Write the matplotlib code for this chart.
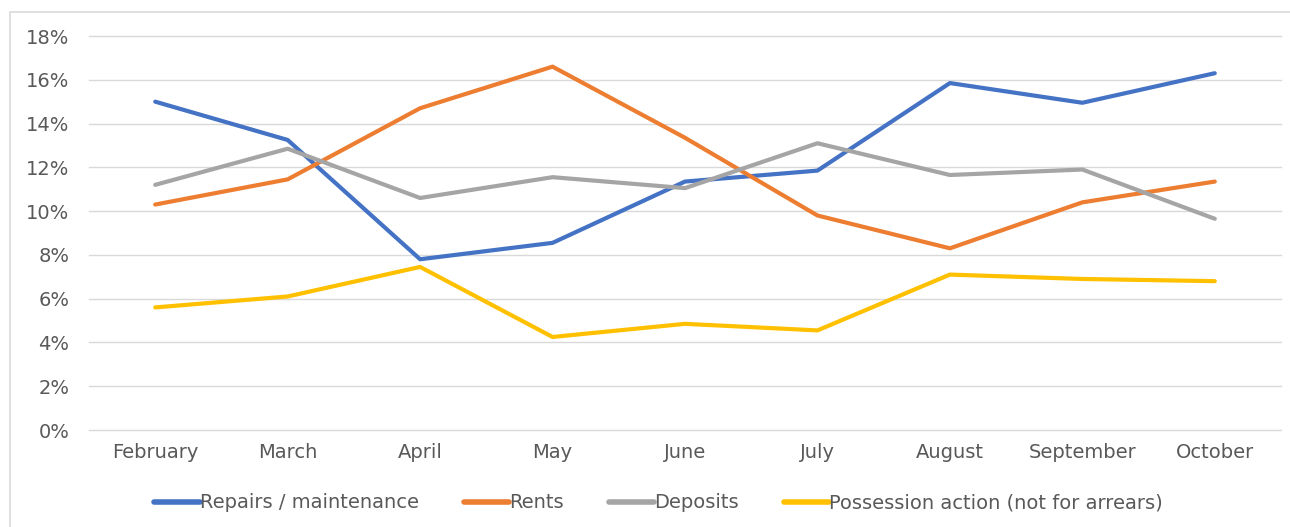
import matplotlib
matplotlib.use("Agg")
import matplotlib.pyplot as plt
from matplotlib.patches import Rectangle
from matplotlib.ticker import FuncFormatter

months = ["February", "March", "April", "May", "June", "July",
          "August", "September", "October"]
repairs = [15.0, 13.25, 7.8, 8.55, 11.35, 11.85, 15.85, 14.95, 16.3]
rents = [10.3, 11.45, 14.7, 16.6, 13.35, 9.8, 8.3, 10.4, 11.35]
deposits = [11.2, 12.85, 10.6, 11.55, 11.05, 13.1, 11.65, 11.9, 9.65]
possession = [5.6, 6.1, 7.45, 4.25, 4.85, 4.55, 7.1, 6.9, 6.8]

series = [
    ("Repairs / maintenance", repairs, "#4472C4"),
    ("Rents", rents, "#ED7D31"),
    ("Deposits", deposits, "#A5A5A5"),
    ("Possession action (not for arrears)", possession, "#FFC000"),
]

fig = plt.figure(figsize=(12.9, 5.27), dpi=100)
fig.patches.append(Rectangle((10 / 1290, -0.1), 1.2, (527 - 12) / 527 + 0.1,
                             transform=fig.transFigure, fill=False,
                             edgecolor="#D9D9D9", lw=1.2))
ax = fig.add_axes([89 / 1290, 1 - 430 / 527, (1281 - 89) / 1290, (430 - 36) / 527])

x = list(range(len(months)))
for nome, vals, cor in series:
    ax.plot(x, vals, color=cor, lw=3, label=nome, solid_capstyle="round",
            solid_joinstyle="round")

ax.set_xlim(-0.5, len(months) - 0.5)
ax.set_ylim(0, 18)
ax.set_yticks(range(0, 19, 2))
ax.yaxis.set_major_formatter(FuncFormatter(lambda v, p: f"{v:.0f}%"))
ax.set_xticks(x)
ax.set_xticklabels(months)
ax.grid(axis="y", color="#D9D9D9", lw=1)
for gl in ax.get_ygridlines():
    gl.set_clip_on(False)
ax.set_axisbelow(True)
for s in ax.spines.values():
    s.set_visible(False)
ax.tick_params(length=0, labelsize=14, colors="#595959", pad=9)
ax.tick_params(axis="y", pad=14)

leg = ax.legend(loc="center", bbox_to_anchor=(0.478, -0.185), ncol=4,
                frameon=False, handlelength=2.35, handletextpad=0.0,
                columnspacing=2.3, prop={"size": 14})
for t in leg.get_texts():
    t.set_color("#595959")
for h in leg.get_lines():
    h.set_linewidth(4)

fig.savefig("out.png", dpi=100)
